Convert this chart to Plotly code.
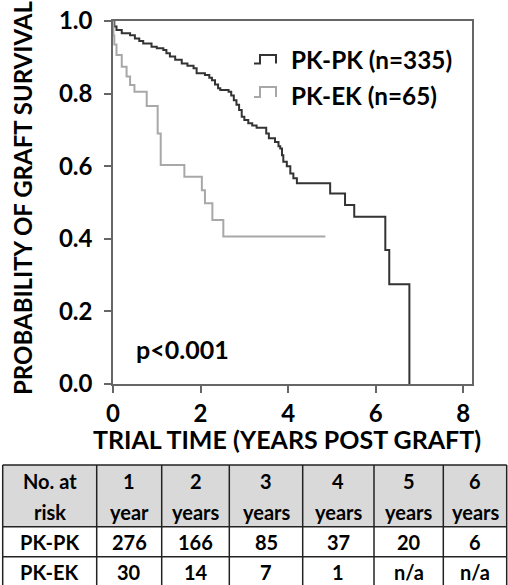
import plotly.graph_objects as go

# ---- data ----
pkpk_time = [0, 0.03, 0.08, 0.20, 0.39, 0.50, 0.60, 0.69, 0.88, 1.00, 1.15, 1.22, 1.30, 1.42,
             1.57, 1.70, 1.84, 1.91, 2.10, 2.20, 2.26, 2.33, 2.40, 2.45, 2.64, 2.70, 2.76, 2.82,
             2.88, 2.94, 3.00, 3.09, 3.18, 3.28, 3.50, 3.56, 3.70, 3.78, 3.82, 3.86, 3.89, 3.97,
             4.05, 4.12, 4.20, 4.96, 5.30, 5.51, 6.22, 6.31, 6.77]
pkpk_surv = [1.0, 0.985, 0.975, 0.966, 0.961, 0.952, 0.945, 0.938, 0.929, 0.925, 0.920, 0.911,
             0.902, 0.893, 0.883, 0.877, 0.870, 0.856, 0.851, 0.844, 0.837, 0.825, 0.815, 0.810,
             0.805, 0.795, 0.782, 0.769, 0.755, 0.736, 0.727, 0.718, 0.712, 0.706, 0.690, 0.677,
             0.667, 0.655, 0.649, 0.630, 0.612, 0.600, 0.580, 0.567, 0.553, 0.525, 0.493, 0.461,
             0.369, 0.275, 0.0]

pkek_time = [0, 0.01, 0.03, 0.08, 0.20, 0.31, 0.39, 0.49, 0.77, 1.02, 1.09, 1.63, 2.03, 2.10,
             2.27, 2.52, 4.85]
pkek_surv = [1.0, 0.960, 0.935, 0.906, 0.874, 0.847, 0.824, 0.805, 0.766, 0.690, 0.603, 0.571,
             0.534, 0.498, 0.452, 0.406, 0.406]

series_names = ["PK-PK (n=335)", "PK-EK (n=65)"]
x_ticks = [0, 2, 4, 6, 8]
y_ticks = [0.0, 0.2, 0.4, 0.6, 0.8, 1.0]

header_line1 = ["No. at", "1", "2", "3", "4", "5", "6"]
header_line2 = ["risk", "year", "years", "years", "years", "years", "years"]
table_groups = ["PK-PK", "PK-EK"]
risk_pkpk = ["276", "166", "85", "37", "20", "6"]
risk_pkek = ["30", "14", "7", "1", "n/a", "n/a"]

# ---- layout geometry (pixels) ----
W, H = 508, 585
L, R, T, B = 113, 472, 21, 384          # plot area edges
def px(x):
    return (x - L) / (R - L)
def py(y):
    return (B - y) / (B - T)

FONT = "Lato"
dark = "#333333"
light = "#a8a8a8"

fig = go.Figure()
fig.add_trace(go.Scatter(x=pkpk_time, y=pkpk_surv, mode="lines", line_shape="hv",
                         line=dict(color=dark, width=2), name=series_names[0], showlegend=False))
fig.add_trace(go.Scatter(x=pkek_time, y=pkek_surv, mode="lines", line_shape="hv",
                         line=dict(color=light, width=2), name=series_names[1], showlegend=False))

axis_common = dict(showgrid=False, zeroline=False, showline=True, linecolor="#666666",
                   linewidth=1.5, mirror=True, ticks="outside", ticklen=7, tickwidth=1.5,
                   tickcolor="#666666", automargin=False,
                   tickfont=dict(family=FONT, size=24, color="black", weight="bold"))

fig.update_layout(
    width=W, height=H, autosize=False,
    margin=dict(l=L, r=W - R, t=T, b=H - B, pad=0),
    paper_bgcolor="white", plot_bgcolor="white", showlegend=False,
    xaxis=dict(range=[0, 8.2], tickvals=x_ticks, ticklabelstandoff=0, **axis_common),
    yaxis=dict(range=[0, 1], tickvals=y_ticks, tickformat=".1f",
               ticklabelstandoff=7, **axis_common),
)

def add_text(text, x, y, size=25, xanchor="center", angle=0):
    fig.add_annotation(text=text, x=px(x), y=py(y), xref="paper", yref="paper",
                       xanchor=xanchor, yanchor="middle", showarrow=False, textangle=angle,
                       font=dict(family=FONT, size=size, color="black", weight="bold"))

add_text("PROBABILITY OF GRAFT SURVIVAL", 22, 198, size=24, angle=-90)
add_text("TRIAL TIME (YEARS POST GRAFT)", 287, 439)
add_text("p<0.001", 134, 349, xanchor="left")
add_text(series_names[0], 289, 60, size=24.3, xanchor="left")
add_text(series_names[1], 289, 96, size=24.3, xanchor="left")

# legend step glyphs
def glyph(y_low, y_top, color):
    pts = [(254, y_low), (260, y_low), (260, y_top), (276, y_top), (276, y_low)]
    path = "M " + " L ".join(f"{px(a):.5f},{py(b):.5f}" for a, b in pts)
    fig.add_shape(type="path", xref="paper", yref="paper", path=path,
                  line=dict(color=color, width=2))
glyph(63.5, 55, dark)
glyph(97, 87, light)

# ---- number-at-risk table ----
col_w = [94, 65, 67.6, 73.4, 71.3, 69.3, 63.4]
tbl_left = 2.7
col_edges = [tbl_left]
for w in col_w:
    col_edges.append(col_edges[-1] + w)
row_edges = [465, 526.7, 556.7, 590]
line_style = dict(color="#222222", width=1.5)

fig.add_shape(type="rect", xref="paper", yref="paper", x0=px(col_edges[0]), x1=px(col_edges[-1]),
              y0=py(row_edges[0]), y1=py(row_edges[1]), fillcolor="#d9d9d9", line_width=0,
              layer="below")
for ye in row_edges[:-1]:
    fig.add_shape(type="line", xref="paper", yref="paper", x0=px(col_edges[0]),
                  x1=px(col_edges[-1]), y0=py(ye), y1=py(ye), line=line_style)
for xe in col_edges:
    fig.add_shape(type="line", xref="paper", yref="paper", x0=px(xe), x1=px(xe),
                  y0=py(row_edges[0]), y1=py(row_edges[-1]), line=line_style)

centers = [(a + b) / 2 for a, b in zip(col_edges[:-1], col_edges[1:])]
body_rows = [[table_groups[0]] + risk_pkpk, [table_groups[1]] + risk_pkek]
for i, c in enumerate(centers):
    add_text(header_line1[i], c, 481.5, size=20)
    add_text(header_line2[i], c, 511.5, size=20)
    add_text(body_rows[0][i], c, 542, size=20)
    add_text(body_rows[1][i], c, 572, size=20)

fig.write_html("out.html", config={"displayModeBar": False},
               post_script="document.body.style.margin='0px';document.body.style.overflow='hidden';")
